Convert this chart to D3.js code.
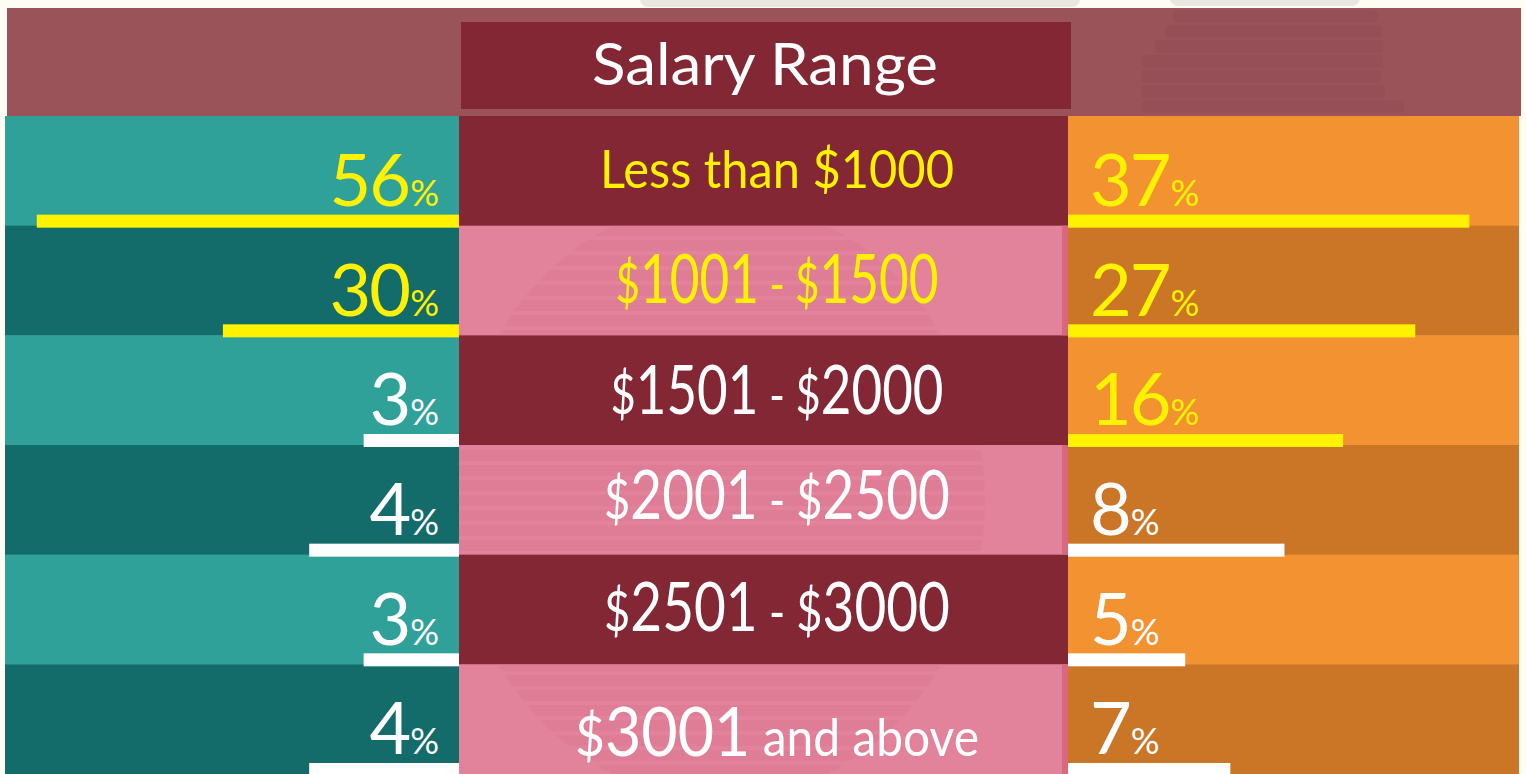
<!DOCTYPE html>
<html>
<head>
<meta charset="utf-8">
<script src="https://cdn.jsdelivr.net/npm/d3@7"></script>
<style>
    html, body { margin: 0; padding: 0; background: #fdfdf3; }
    svg { display: block; font-family: Lato, "Open Sans", sans-serif; }
</style>
</head>
<body>
<div id="chart"></div>
<script>

// Data
const title = "Salary Range"
const salaryRanges = ["Less than $1000", "$1001 - $1500", "$1501 - $2000", "$2001 - $2500", "$2501 - $3000", "$3001 and above"]
const leftValues = [56, 30, 3, 4, 3, 4]
const rightValues = [37, 27, 16, 8, 5, 7]
// bar lengths as drawn in the picture (share of the panel width, %)
const leftBars = [93, 52, 21, 33, 21, 33]
const rightBars = [89, 77, 61, 48, 26, 36]
// how many rows are highlighted in yellow
const leftTop = 2, centerTop = 2, rightTop = 3

// Layout
const W = 1526, H = 774
const leftX0 = 5, midX0 = 459, midX1 = 1068, rightX1 = 1519
const labelDy = [72, 77, 79, 74, 76, 92]   // baseline of the centre labels inside each row
const labelWidth = [354, 323, 333, 346, 346, 404]

const col = {
    header: "#9a5459", titleBox: "#822733",
    tealA: "#30a199", tealB: "#136b6a",
    redA: "#822733", pinkB: "#e2829b",
    orangeA: "#f39231", orangeB: "#cb7526",
    yellow: "#fff200", white: "#ffffff"
}

const svg = d3.select("#chart").append("svg")
    .attr("width", W).attr("height", H)

// scales
const y = d3.scaleBand().domain(salaryRanges).range([116, H])
const xLeft = d3.scaleLinear().domain([0, 100]).range([midX0, leftX0])
const xRight = d3.scaleLinear().domain([0, 100]).range([midX1, rightX1])

const rows = salaryRanges.map((r, i) => ({
    range: r, i: i,
    left: leftValues[i], right: rightValues[i],
    leftBar: leftBars[i], rightBar: rightBars[i]
}))

// faint shapes above the header
svg.append("rect").attr("x", 640).attr("y", -10).attr("width", 440).attr("height", 17).attr("rx", 8).attr("fill", "#e8e8e0")
svg.append("rect").attr("x", 1170).attr("y", -10).attr("width", 190).attr("height", 16).attr("rx", 8).attr("fill", "#e8e8e0")

// Header band
svg.append("rect").attr("x", 7).attr("y", 8).attr("width", 1514).attr("height", 108).attr("fill", col.header)

// striped watermark in the header
const stripes = [[1173, 205], [1165, 217], [1155, 228], [1142, 241], [1141, 240], [1141, 244], [1142, 262]]
svg.append("g").selectAll("rect").data(stripes).join("rect")
    .attr("x", d => d[0]).attr("y", (d, i) => 10 + i * 15)
    .attr("width", d => d[1]).attr("height", 12.5).attr("rx", 4)
    .attr("fill", "#8e4650").attr("opacity", 0.3)

svg.append("rect").attr("x", 461).attr("y", 22).attr("width", 610).attr("height", 87).attr("fill", col.titleBox)
svg.append("text")
    .attr("x", 765).attr("y", 85)
    .attr("text-anchor", "middle")
    .attr("fill", col.white)
    .attr("font-size", 58)
    .attr("textLength", 346).attr("lengthAdjust", "spacingAndGlyphs")
    .text(title)

// Left panel rows
svg.append("g").selectAll("rect").data(rows).join("rect")
    .attr("x", leftX0).attr("y", d => y(d.range))
    .attr("width", midX0 - leftX0).attr("height", y.bandwidth() + 0.5)
    .attr("fill", d => d.i % 2 ? col.tealB : col.tealA)

// Centre rows
svg.append("g").selectAll("rect").data(rows).join("rect")
    .attr("x", midX0).attr("y", d => y(d.range))
    .attr("width", midX1 - midX0).attr("height", y.bandwidth() + 0.5)
    .attr("fill", d => d.i % 2 ? col.pinkB : col.redA)

// striped watermark in the pink rows
const defs = svg.append("defs")
const pat = defs.append("pattern").attr("id", "stripes")
    .attr("patternUnits", "userSpaceOnUse").attr("width", 20).attr("height", 15)
pat.append("rect").attr("width", 20).attr("height", 11).attr("fill", "#d87590")
const clip = defs.append("clipPath").attr("id", "pinkRows")
clip.selectAll("rect").data(rows.filter(d => d.i % 2)).join("rect")
    .attr("x", midX0).attr("y", d => y(d.range))
    .attr("width", midX1 - midX0 - 6).attr("height", y.bandwidth())
svg.append("ellipse")
    .attr("cx", 720).attr("cy", 500).attr("rx", 265).attr("ry", 300)
    .attr("fill", "url(#stripes)").attr("opacity", 0.35)
    .attr("clip-path", "url(#pinkRows)")

// darker edge on the pink rows
svg.append("g").selectAll("rect").data(rows.filter(d => d.i % 2)).join("rect")
    .attr("x", midX1 - 6).attr("y", d => y(d.range))
    .attr("width", 6).attr("height", y.bandwidth())
    .attr("fill", "#d9687e")

// Right panel rows
svg.append("g").selectAll("rect").data(rows).join("rect")
    .attr("x", midX1).attr("y", d => y(d.range))
    .attr("width", rightX1 - midX1).attr("height", y.bandwidth() + 0.5)
    .attr("fill", d => d.i % 2 ? col.orangeB : col.orangeA)

// Bars
const barH = 13
svg.append("g").selectAll("rect").data(rows).join("rect")
    .attr("x", d => xLeft(d.leftBar)).attr("y", d => y(d.range) + y.bandwidth() - 11)
    .attr("width", d => xLeft(0) - xLeft(d.leftBar)).attr("height", barH)
    .attr("fill", d => d.i < leftTop ? col.yellow : col.white)

svg.append("g").selectAll("rect").data(rows).join("rect")
    .attr("x", xRight(0)).attr("y", d => y(d.range) + y.bandwidth() - 11)
    .attr("width", d => xRight(d.rightBar) - xRight(0)).attr("height", barH)
    .attr("fill", d => d.i < rightTop ? col.yellow : col.white)

// Percent labels
function pct(sel, key) {
    sel.append("tspan").attr("font-size", 72).text(d => d[key])
    sel.append("tspan").attr("font-size", 36).attr("dx", 1).text("%")
}
svg.append("g").selectAll("text").data(rows).join("text")
    .attr("x", 437).attr("y", d => y(d.range) + 90)
    .attr("text-anchor", "end")
    .attr("fill", d => d.i < leftTop ? col.yellow : col.white)
    .attr("letter-spacing", -2)
    .call(pct, "left")

svg.append("g").selectAll("text").data(rows).join("text")
    .attr("x", 1090).attr("y", d => y(d.range) + 90)
    .attr("text-anchor", "start")
    .attr("fill", d => d.i < rightTop ? col.yellow : col.white)
    .attr("letter-spacing", -2)
    .call(pct, "right")

// Centre labels: "$" and the dash smaller, amounts large
function tokens(label) {
    if (/^[A-Za-z]/.test(label)) return [{ t: label, s: 52 }]
    return label.match(/\$|\d+| - |[^$\d]+/g).map(t => ({
        t: t,
        s: t === "$" ? 56 : /^\d+$/.test(t) ? 68 : t === " - " ? 54 : 52
    }))
}
const labels = svg.append("g").selectAll("text").data(rows).join("text")
    .attr("text-anchor", "middle")
    .attr("fill", d => d.i < centerTop ? col.yellow : col.white)
labels.selectAll("tspan").data(d => tokens(d.range)).join("tspan")
    .attr("font-size", d => d.s)
    .text(d => d.t)
// squeeze each label horizontally to the width it has in the picture
labels.attr("transform", function(d) {
    const k = labelWidth[d.i] / this.getBBox().width
    return "translate(777," + (y(d.range) + labelDy[d.i]) + ") scale(" + k + ",1)"
})

</script>
</body>
</html>
